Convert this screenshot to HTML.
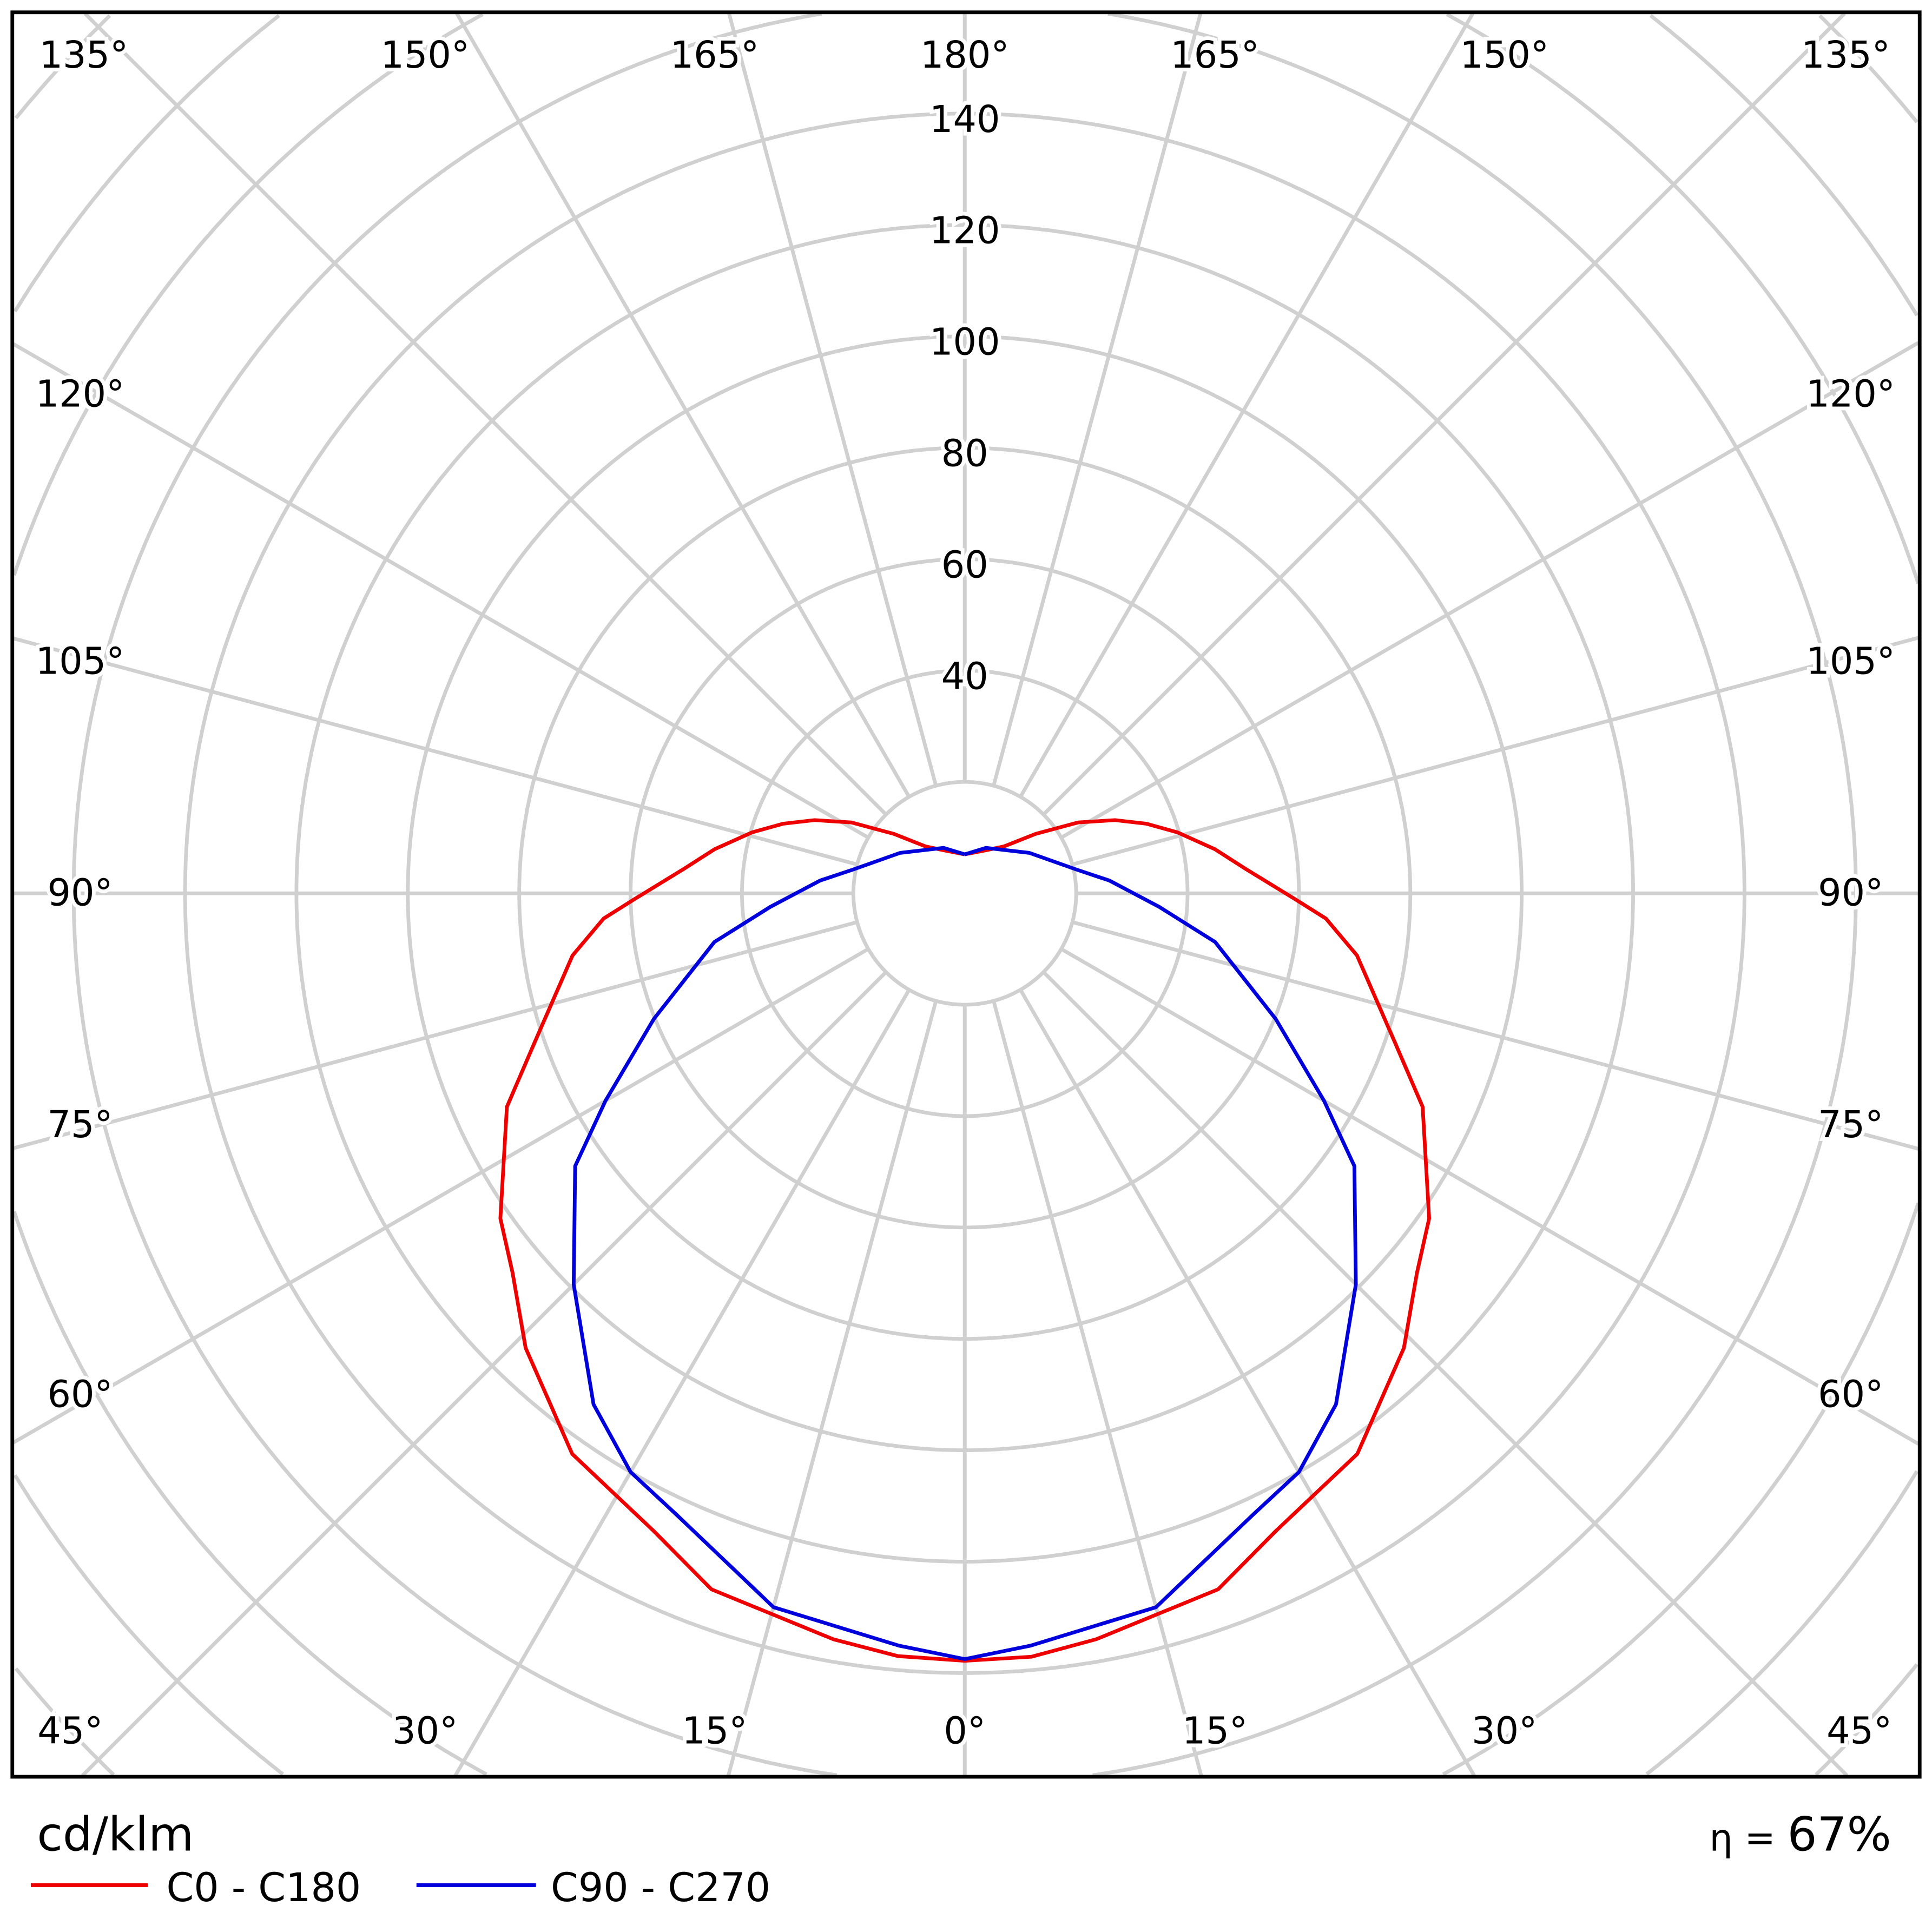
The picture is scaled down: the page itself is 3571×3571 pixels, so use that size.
<!DOCTYPE html>
<html><head><meta charset="utf-8"><style>
html,body{margin:0;padding:0;background:#fff;overflow:hidden;width:3571px;height:3571px;}
svg#chart{display:block;position:absolute;left:0;top:0;}
text{font-family:"DejaVu Sans","Liberation Sans",sans-serif;}
</style></head><body>
<svg id="chart" width="3571" height="3571" viewBox="0 0 1568 1568" xmlns="http://www.w3.org/2000/svg">
<rect x="0" y="0" width="1568" height="1568" fill="#fff"/>
<g id="grid"></g>
<g id="curves"></g>
<g id="labels"></g>
<rect x="10" y="10" width="1548" height="1432" fill="none" stroke="#000" stroke-width="3"/>
<text x="30" y="1502" font-size="38">cd/klm</text>
<text x="1535" y="1502" font-size="38" text-anchor="end"><tspan font-size="30">η = </tspan>67%</text>
<line x1="25" y1="1530" x2="120" y2="1530" stroke="#e00" stroke-width="3"/>
<text x="135" y="1543" font-size="32">C0 - C180</text>
<line x1="338" y1="1530" x2="435" y2="1530" stroke="#00d" stroke-width="3"/>
<text x="447" y="1543" font-size="32">C90 - C270</text>
</svg>
<script>
const ringValues = [20,40,60,80,100,120,140,160,180,200,220];
const ringLabels = [40,60,80,100,120,140];
const gridAngles = [0,15,30,45,60,75,90,105,120,135,150,165,180];
const redAnglesRight = [0,5,10,20,26,35,44,50,55,65,71,81,86,89,95,100,106,111,116,122,130,140,154,180];
const redValuesRight = [137.8,137.6,136,133,127.4,122.9,113.5,106,101.8,90.7,81.6,71.3,65,59.3,50.6,45.6,39.7,34.9,30,24,16.6,11,8.6,7];
const redAnglesLeft = [0,5,10,20,26,35,44,50,55,65,71,81,86,89,95,100,106,111,116,122,130,140,154,180];
const redValuesLeft = [137.8,137.5,136,133,127.4,122.9,113.5,106,101.8,90.7,81.6,71.3,65,59.3,50.6,45.6,39.7,34.9,30,24,16.6,11,8.6,7];
const blueAnglesRight = [0,5,15,25,30,36,45,55,60,68,79,86,95,102,122,155,180];
const blueValuesRight = [137.5,135.6,132.7,122.9,120,113.4,99.3,85.4,74.5,60.2,45.8,35,26.1,20.5,13.7,9,7];
const blueAnglesLeft = [0,5,15,25,30,36,45,55,60,68,79,86,95,102,122,155,180];
const blueValuesLeft = [137.5,135.6,132.7,122.9,120,113.4,99.3,85.4,74.5,60.2,45.8,35,26.1,20.5,13.7,9,7];

const NS="http://www.w3.org/2000/svg";
const cx=783, cy=725, k=4.52;
const X0=11,X1=1557,Y0=11,Y1=1441;
function rScale(v){return v*k;}
function px(g,v,side){return cx+side*rScale(v)*Math.sin(g*Math.PI/180);}
function py(g,v){return cy+rScale(v)*Math.cos(g*Math.PI/180);}
function inside(x,y){return x>=X0&&x<=X1&&y>=Y0&&y<=Y1;}
const grid=document.getElementById('grid');
ringValues.forEach(v=>{
  const r=rScale(v);
  let d='', pen=false;
  for(let i=0;i<=1440;i++){
    const a=i/1440*2*Math.PI;
    const x=cx+r*Math.cos(a), y=cy+r*Math.sin(a);
    if(inside(x,y)){d+=(pen?'L':'M')+x.toFixed(1)+','+y.toFixed(1);pen=true;}
    else pen=false;
  }
  const c=document.createElementNS(NS,'path');
  c.setAttribute('d',d);
  c.setAttribute('fill','none');c.setAttribute('stroke','#d0d0d0');c.setAttribute('stroke-width','3');
  
  
  grid.appendChild(c);
});
[1,-1].forEach(side=>{
  gridAngles.forEach(g=>{
    const dx=side*Math.sin(g*Math.PI/180), dy=Math.cos(g*Math.PI/180);
    let t=1e9;
    if(dx>1e-9)t=Math.min(t,(X1-cx)/dx);
    if(dx<-1e-9)t=Math.min(t,(X0-cx)/dx);
    if(dy>1e-9)t=Math.min(t,(Y1-cy)/dy);
    if(dy<-1e-9)t=Math.min(t,(Y0-cy)/dy);
    const l=document.createElementNS(NS,'line');
    l.setAttribute('x1',px(g,20,side));l.setAttribute('y1',py(g,20));
    l.setAttribute('x2',cx+dx*t);l.setAttribute('y2',cy+dy*t);
    l.setAttribute('stroke','#d0d0d0');l.setAttribute('stroke-width','3');
    
    
    grid.appendChild(l);
  });
});
const curves=document.getElementById('curves');
function drawCurve(aR,vR,aL,vL,color,name){
  const pts=[];
  for(let i=aL.length-1;i>=0;i--)pts.push(px(aL[i],vL[i],-1).toFixed(1)+','+py(aL[i],vL[i]).toFixed(1));
  for(let i=0;i<aR.length;i++)pts.push(px(aR[i],vR[i],1).toFixed(1)+','+py(aR[i],vR[i]).toFixed(1));
  const p=document.createElementNS(NS,'polyline');
  p.setAttribute('points',pts.join(' '));
  p.setAttribute('fill','none');p.setAttribute('stroke',color);p.setAttribute('stroke-width','3');
  p.setAttribute('stroke-linejoin','round');
  
  
  curves.appendChild(p);
}
drawCurve(redAnglesRight,redValuesRight,redAnglesLeft,redValuesLeft,'#e00','curve-c0-c180');
drawCurve(blueAnglesRight,blueValuesRight,blueAnglesLeft,blueValuesLeft,'#00d','curve-c90-c270');
const labels=document.getElementById('labels');
function addText(x,y,s,anchor,name,size){
  const t=document.createElementNS(NS,'text');
  t.setAttribute('x',x);t.setAttribute('y',y);t.setAttribute('font-size',size||30);
  t.setAttribute('text-anchor',anchor);t.setAttribute('dominant-baseline','central');
  t.setAttribute('stroke','#fff');t.setAttribute('stroke-width','6');t.setAttribute('paint-order','stroke');
  t.textContent=s;
  
  
  labels.appendChild(t);
}
ringLabels.forEach(v=>addText(cx,cy-rScale(v)+5,String(v),'middle','radial-label-'+v));
const bottomAngles=[0,15,30,45], bottomX=[783,580,345,57];
bottomAngles.forEach((a,i)=>{
  addText(bottomX[i],1405,a+'°','middle','angle-label-bottom-left-'+a);
  addText(1566-bottomX[i],1405,a+'°','middle','angle-label-bottom-right-'+a);
});
const topAngles=[180,165,150,135], topX=[783,580,345,68];
topAngles.forEach((a,i)=>{
  addText(topX[i],45,a+'°','middle','angle-label-top-left-'+a);
  addText(1566-topX[i],45,a+'°','middle','angle-label-top-right-'+a);
});
const sideAngles=[120,105,90,75,60], sideY=[320,537,725,913,1132];
sideAngles.forEach((a,i)=>{
  addText(65,sideY[i],a+'°','middle','angle-label-left-'+a);
  addText(1502,sideY[i],a+'°','middle','angle-label-right-'+a);
});
</script>
</body></html>
